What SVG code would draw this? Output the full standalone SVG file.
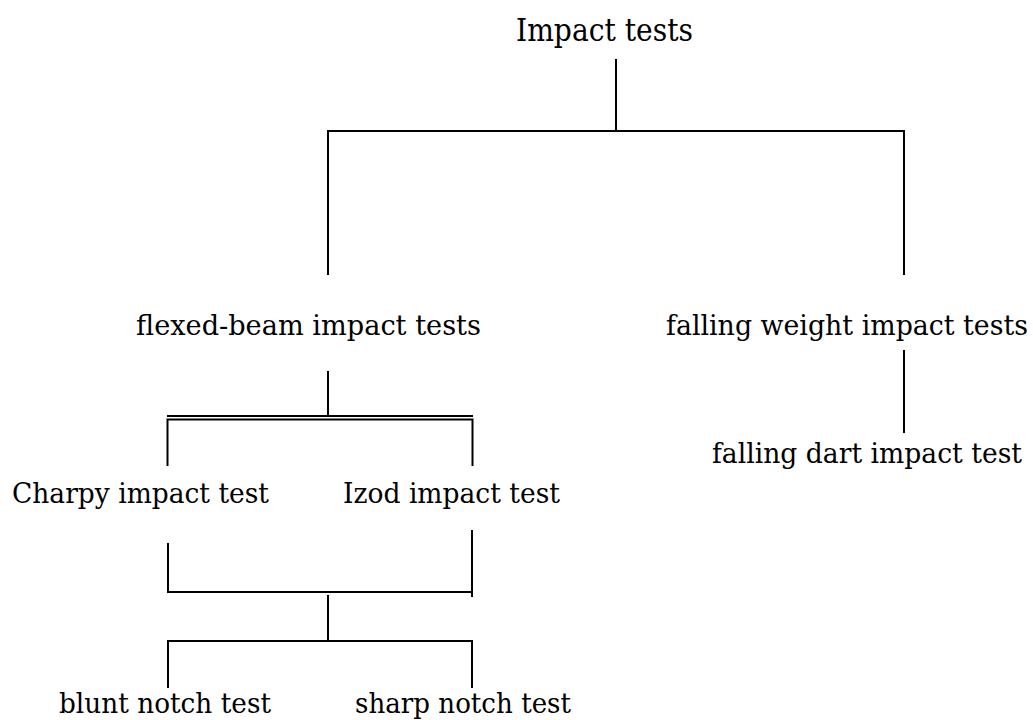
<svg xmlns="http://www.w3.org/2000/svg" width="1033" height="720" viewBox="0 0 1033 720">
<style>
.c line,.c polyline{stroke:#000;stroke-width:2;fill:none}
text{font-family:"DejaVu Serif","Liberation Serif",serif;font-size:28px;fill:#000}
</style>
<rect width="1033" height="720" fill="#fff"/>
<g class="c" id="connectors">
<line x1="616" y1="59" x2="616" y2="131"/>
<polyline points="328,275 328,131 904,131 904,275"/>
<line x1="328" y1="371" x2="328" y2="416"/>
<line x1="167" y1="416" x2="473" y2="416"/>
<polyline points="167.5,466 167.5,419.5 472.5,419.5 472.5,466"/>
<polyline points="168,543 168,592 472,592"/>
<line x1="472" y1="530" x2="472" y2="597"/>
<line x1="328" y1="595" x2="328" y2="641"/>
<polyline points="168,688 168,641 472,641 472,688"/>
<line x1="904" y1="350" x2="904" y2="433"/>
</g>
<g id="n-impact"><text x="516" y="41" style="font-size:31px" textLength="177" lengthAdjust="spacingAndGlyphs">Impact tests</text></g>
<g id="n-flexed"><text x="136" y="335" textLength="345" lengthAdjust="spacingAndGlyphs">flexed-beam impact tests</text></g>
<g id="n-falling-weight"><text x="666" y="335" style="font-size:27px" textLength="362" lengthAdjust="spacingAndGlyphs">falling weight impact tests</text></g>
<g id="n-falling-dart"><text x="712" y="463" style="font-size:27px" textLength="310" lengthAdjust="spacingAndGlyphs">falling dart impact test</text></g>
<g id="n-charpy"><text x="12" y="503" textLength="257" lengthAdjust="spacingAndGlyphs">Charpy impact test</text></g>
<g id="n-izod"><text x="343" y="503" textLength="217" lengthAdjust="spacingAndGlyphs">Izod impact test</text></g>
<g id="n-blunt"><text x="59" y="713" textLength="212" lengthAdjust="spacingAndGlyphs">blunt notch test</text></g>
<g id="n-sharp"><text x="355" y="713" textLength="216" lengthAdjust="spacingAndGlyphs">sharp notch test</text></g>
</svg>
